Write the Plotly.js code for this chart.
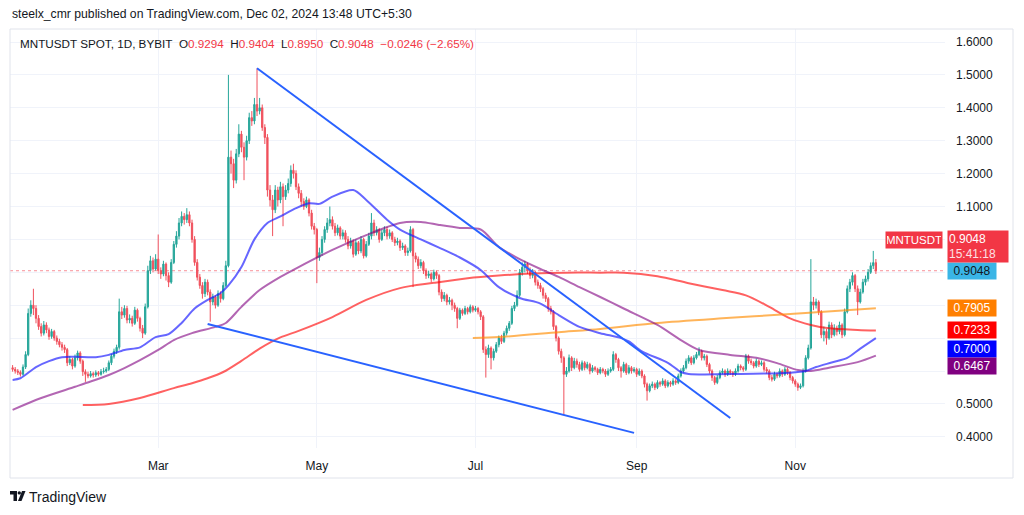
<!DOCTYPE html>
<html><head><meta charset="utf-8">
<script src="https://cdn.plot.ly/plotly-3.0.1.min.js"></script>
<style>html,body{margin:0;padding:0;background:#fff;}#chart{width:1024px;height:515px;}</style>
</head><body><div id="chart"></div>
<script>
// ---------- DATA ----------
const startDate = [2024, 0, 5];          // first daily candle: 2024-01-05
const firstOpen = 0.610;
const closes = [
.605,.600,.596,.590,.612,.650,.775,.800,.790,.760,
.735,.715,.740,.725,.705,.720,.700,.690,.680,.672,
.665,.625,.635,.615,.640,.655,.630,.598,.590,.585,
.592,.588,.595,.590,.598,.600,.605,.625,.645,.660,
.672,.780,.770,.790,.755,.760,.745,.785,.760,.730,
.715,.795,.905,.935,.910,.940,.905,.895,.925,.890,
.870,.930,.985,1.010,1.050,1.070,1.060,1.075,1.050,1.000,
.930,.885,.860,.835,.870,.840,.810,.825,.800,.835,
.820,.860,.920,1.250,1.230,1.180,1.260,1.320,1.280,1.250,
1.300,1.370,1.360,1.410,1.390,1.400,1.340,1.310,1.150,1.120,
1.090,1.150,1.120,1.160,1.130,1.150,1.170,1.210,1.200,1.160,
1.140,1.115,1.100,1.120,1.080,1.040,1.030,.945,.960,1.000,
1.030,1.050,1.060,1.040,1.020,1.035,1.010,1.020,1.000,.980,
.995,.955,.990,.965,1.000,.950,.985,1.010,1.050,1.020,
1.030,1.000,1.020,1.030,1.010,1.020,1.000,.990,.995,.975,
.980,.960,.965,1.030,.950,.940,.920,.930,.905,.890,
.895,.880,.900,.890,.840,.820,.830,.810,.815,.800,
.790,.760,.785,.775,.790,.780,.795,.785,.790,.780,
.765,.665,.650,.670,.640,.660,.680,.700,.690,.715,
.730,.745,.790,.800,.830,.900,.915,.925,.905,.890,
.900,.870,.860,.850,.830,.820,.790,.780,.735,.700,
.660,.640,.590,.600,.640,.610,.630,.620,.605,.625,
.610,.620,.600,.610,.605,.595,.605,.600,.590,.600,
.605,.650,.635,.610,.600,.620,.595,.610,.600,.605,
.590,.600,.585,.560,.540,.555,.560,.550,.565,.560,
.570,.555,.565,.560,.570,.565,.585,.600,.610,.630,
.640,.625,.640,.650,.660,.640,.645,.620,.600,.580,
.565,.580,.595,.600,.590,.600,.595,.590,.600,.615,
.610,.605,.645,.630,.625,.615,.630,.620,.625,.605,
.600,.580,.575,.590,.585,.600,.590,.605,.595,.580,
.570,.560,.550,.555,.600,.640,.670,.810,.800,.810,
.780,.710,.720,.700,.740,.710,.730,.720,.740,.710,
.780,.850,.870,.890,.850,.810,.840,.870,.880,.900,
.920,.9294,.9048];
const highs = [
.618,.612,.606,.602,.620,.660,.790,.815,.850,.800,
.770,.745,.752,.748,.732,.728,.725,.708,.698,.688,
.680,.670,.645,.640,.650,.662,.660,.635,.605,.598,
.600,.598,.602,.600,.606,.610,.612,.632,.652,.668,
.680,.820,.795,.800,.798,.772,.768,.795,.790,.765,
.740,.805,.920,.950,.945,.955,1.015,.915,.935,.930,
.900,.940,.995,1.025,1.065,1.085,1.080,1.095,1.085,1.060,
1.010,.940,.895,.870,.880,.878,.848,.835,.830,.845,
.842,.870,.935,1.500,1.270,1.245,1.275,1.350,1.330,1.295,
1.315,1.385,1.390,1.430,1.520,1.430,1.410,1.350,1.320,1.165,
1.135,1.165,1.160,1.175,1.170,1.165,1.185,1.225,1.230,1.210,
1.170,1.150,1.125,1.130,1.125,1.090,1.050,1.035,.975,1.010,
1.040,1.065,1.100,1.070,1.050,1.045,1.040,1.030,1.028,1.010,
1.005,1.000,1.000,.995,1.010,1.005,.995,1.020,1.080,1.060,
1.040,1.035,1.030,1.040,1.038,1.030,1.025,1.008,1.005,1.000,
.990,.985,.975,1.040,1.035,.960,.948,.940,.935,.912,
.905,.900,.908,.905,.895,.848,.840,.835,.825,.820,
.808,.795,.792,.790,.798,.795,.802,.800,.798,.795,
.785,.770,.675,.680,.675,.668,.688,.708,.710,.722,
.738,.752,.798,.810,.845,.910,.930,.935,.930,.915,
.910,.905,.878,.868,.855,.838,.825,.798,.785,.740,
.705,.668,.645,.612,.650,.645,.640,.638,.628,.632,
.630,.628,.625,.618,.615,.610,.612,.610,.606,.608,
.612,.660,.655,.640,.615,.628,.625,.618,.615,.612,
.610,.608,.605,.590,.565,.562,.568,.565,.572,.570,
.578,.575,.572,.570,.578,.575,.592,.608,.618,.638,
.648,.645,.648,.658,.672,.665,.652,.650,.625,.605,
.585,.588,.602,.608,.605,.608,.605,.600,.608,.622,
.620,.615,.652,.650,.638,.630,.638,.635,.632,.630,
.612,.605,.588,.598,.595,.608,.605,.612,.610,.600,
.585,.575,.565,.562,.608,.648,.680,.940,.825,.820,
.815,.785,.735,.728,.750,.748,.742,.738,.750,.745,
.790,.860,.880,.900,.895,.860,.850,.880,.890,.910,
.930,.965,.9404];
const lows = [
.598,.592,.588,.583,.586,.606,.645,.765,.770,.745,
.725,.705,.708,.715,.695,.698,.692,.680,.672,.662,
.655,.615,.618,.605,.610,.632,.622,.585,.567,.578,
.580,.580,.582,.584,.586,.592,.595,.600,.618,.638,
.652,.665,.758,.762,.745,.745,.735,.740,.750,.720,
.700,.710,.790,.895,.900,.905,.895,.880,.888,.875,
.855,.865,.925,.975,1.000,1.040,1.045,1.050,1.040,.990,
.920,.875,.850,.820,.825,.830,.750,.800,.790,.795,
.808,.815,.855,.915,1.200,1.156,1.170,1.250,1.265,1.180,
1.240,1.290,1.345,1.350,1.375,1.380,1.330,1.290,1.130,1.100,
1.010,1.080,1.100,1.110,1.040,1.120,1.140,1.160,1.185,1.150,
1.125,1.100,1.090,1.095,1.070,1.030,1.015,.867,.935,.950,
.990,1.020,1.040,1.030,1.010,1.012,1.000,1.000,.990,.970,
.972,.945,.950,.955,.958,.942,.945,.980,1.000,1.010,
1.012,.990,.995,1.010,1.000,1.002,.992,.980,.982,.965,
.968,.950,.950,.960,.855,.930,.910,.912,.895,.880,
.882,.870,.875,.880,.830,.810,.812,.800,.802,.785,
.780,.730,.755,.768,.770,.772,.775,.778,.780,.772,
.755,.655,.580,.640,.605,.632,.655,.672,.682,.685,
.708,.722,.740,.782,.795,.825,.890,.900,.895,.880,
.882,.860,.850,.840,.820,.810,.780,.772,.725,.690,
.650,.625,.467,.582,.595,.600,.605,.610,.598,.600,
.602,.605,.590,.595,.598,.588,.590,.593,.582,.585,
.595,.600,.625,.600,.580,.595,.588,.590,.592,.595,
.582,.585,.578,.550,.510,.535,.548,.542,.545,.552,
.555,.548,.550,.552,.555,.558,.560,.580,.595,.605,
.622,.618,.620,.635,.645,.632,.632,.612,.592,.570,
.558,.560,.575,.590,.582,.585,.588,.582,.585,.595,
.602,.598,.600,.622,.618,.608,.610,.612,.615,.598,
.592,.572,.568,.570,.578,.580,.582,.585,.588,.572,
.562,.552,.540,.545,.550,.595,.635,.665,.785,.790,
.770,.700,.690,.680,.695,.700,.705,.708,.712,.700,
.705,.775,.840,.860,.840,.770,.805,.835,.860,.872,
.895,.910,.895];

// moving averages (values at sample dates)
const blueMaDates = ['2024-01-05','2024-01-08','2024-01-14','2024-01-19','2024-01-24','2024-01-29','2024-02-06','2024-02-11','2024-02-17','2024-02-23','2024-02-29','2024-03-05','2024-03-10','2024-03-15','2024-03-20','2024-03-25','2024-03-28','2024-04-02','2024-04-07','2024-04-12','2024-04-17','2024-04-23','2024-04-28','2024-05-02','2024-05-07','2024-05-15','2024-05-20','2024-05-28','2024-06-02','2024-06-10','2024-06-17','2024-06-25','2024-07-03','2024-07-10','2024-07-18','2024-07-26','2024-08-02','2024-08-10','2024-08-18','2024-08-26','2024-08-29','2024-09-03','2024-09-13','2024-09-18','2024-09-21','2024-10-11','2024-10-30','2024-11-05','2024-11-09','2024-11-15','2024-11-21','2024-11-26','2024-12-02'];
const blueMaValues = [0.573,0.578,0.612,0.630,0.642,0.643,0.642,0.649,0.664,0.672,0.703,0.712,0.746,0.790,0.816,0.837,0.860,0.916,1.000,1.050,1.070,1.095,1.110,1.108,1.130,1.150,1.120,1.060,1.030,1.000,0.975,0.945,0.907,0.855,0.822,0.805,0.770,0.734,0.715,0.700,0.690,0.660,0.625,0.597,0.591,0.591,0.595,0.600,0.612,0.626,0.640,0.668,0.700];
const purpleMaDates = ['2024-01-05','2024-01-16','2024-01-29','2024-02-04','2024-02-11','2024-02-17','2024-02-23','2024-03-01','2024-03-07','2024-03-14','2024-03-23','2024-03-27','2024-04-02','2024-04-09','2024-04-17','2024-04-24','2024-05-07','2024-05-20','2024-06-02','2024-06-10','2024-06-17','2024-06-25','2024-07-03','2024-07-10','2024-07-18','2024-07-26','2024-08-02','2024-08-10','2024-08-18','2024-08-27','2024-09-09','2024-09-18','2024-09-25','2024-10-07','2024-10-17','2024-10-25','2024-11-02','2024-11-07','2024-11-14','2024-11-25','2024-12-02'];
const purpleMaValues = [0.482,0.518,0.552,0.568,0.588,0.609,0.633,0.664,0.694,0.715,0.734,0.746,0.795,0.846,0.886,0.916,0.968,1.013,1.050,1.053,1.044,1.035,1.030,0.977,0.940,0.910,0.886,0.855,0.825,0.790,0.740,0.694,0.664,0.649,0.640,0.624,0.603,0.600,0.610,0.627,0.6467];
const redMaDates = ['2024-02-01','2024-02-11','2024-02-23','2024-03-07','2024-03-14','2024-03-20','2024-03-26','2024-04-02','2024-04-09','2024-04-17','2024-04-24','2024-05-07','2024-05-20','2024-06-02','2024-06-15','2024-06-28','2024-07-10','2024-07-23','2024-08-05','2024-08-18','2024-08-27','2024-09-09','2024-09-21','2024-10-04','2024-10-13','2024-10-22','2024-10-30','2024-11-07','2024-11-14','2024-11-25','2024-12-02'];
const redMaValues = [0.497,0.500,0.518,0.548,0.563,0.578,0.597,0.631,0.668,0.702,0.722,0.764,0.816,0.852,0.868,0.882,0.890,0.896,0.899,0.899,0.899,0.888,0.867,0.846,0.830,0.795,0.760,0.740,0.730,0.725,0.7233];
const orangeMaDates = ['2024-06-30','2024-07-10','2024-08-02','2024-08-18','2024-09-09','2024-10-04','2024-10-30','2024-11-12','2024-12-02'];
const orangeMaValues = [0.700,0.703,0.718,0.728,0.746,0.760,0.773,0.780,0.7905];

// hand-drawn trend lines
const trendUpperDates = ['2024-04-08','2024-10-07'];
const trendUpperPrices = [1.52, 0.457];
const trendLowerDates = ['2024-03-20','2024-08-31'];
const trendLowerPrices = [0.743, 0.412];

// axes
const monthTickDates = ['2024-03-01','2024-05-01','2024-07-01','2024-09-01','2024-11-01'];
const monthTickLabels = ['Mar','May','Jul','Sep','Nov'];
const priceTicks = [0.4,0.5,0.6,0.7,0.8,0.9,1.0,1.1,1.2,1.3,1.4,1.5,1.6];
const hiddenTickLabels = [0.6,0.7,0.8,0.9,1.0];   // covered by the price-scale badges in the reference
const countdown = '15:41:18';

// ---------- BUILD ----------
const dates = closes.map((_, i) => new Date(Date.UTC(startDate[0], startDate[1], startDate[2] + i)).toISOString().slice(0, 10));
const opens = closes.map((c, i) => i === 0 ? firstOpen : closes[i - 1]);
const N = closes.length;
const lastO = opens[N-1], lastH = highs[N-1], lastL = lows[N-1], lastC = closes[N-1];
const chg = lastC - opens[N-1];
const chgPct = chg / opens[N-1] * 100;
const f4 = v => v.toFixed(4);
const neg = s => s.replace('-', '\u2212');

const RED = '#f23645';
const TXT = '#131722';
const FONT = 'Liberation Sans, Arial, sans-serif';

// plot area in pixels: x 10..945, y 29..448
const PX0 = 10, PX1 = 945, PY0 = 29, PY1 = 448;
const px = x => (x - PX0) / (PX1 - PX0);
const py = y => (PY1 - y) / (PY1 - PY0);

const traces = [
  {type:'candlestick', x:dates, open:opens, high:highs, low:lows, close:closes,
   increasing:{line:{color:'#26a69a', width:1}, fillcolor:'#26a69a'},
   decreasing:{line:{color:'#f0505c', width:1}, fillcolor:'#f0505c'},
   whiskerwidth:0, hoverinfo:'skip', showlegend:false},
  {type:'scatter', mode:'lines', x:redMaDates, y:redMaValues, line:{color:'rgba(255,0,0,0.62)', width:2, shape:'spline', smoothing:0.9}, hoverinfo:'skip', showlegend:false},
  {type:'scatter', mode:'lines', x:orangeMaDates, y:orangeMaValues, line:{color:'rgba(255,140,0,0.65)', width:2, shape:'spline', smoothing:0.8}, hoverinfo:'skip', showlegend:false},
  {type:'scatter', mode:'lines', x:purpleMaDates, y:purpleMaValues, line:{color:'rgba(128,0,128,0.6)', width:2, shape:'spline', smoothing:0.8}, hoverinfo:'skip', showlegend:false},
  {type:'scatter', mode:'lines', x:blueMaDates, y:blueMaValues, line:{color:'rgba(30,30,255,0.68)', width:2, shape:'spline', smoothing:0.8}, hoverinfo:'skip', showlegend:false},
  {type:'scatter', mode:'lines', x:trendUpperDates, y:trendUpperPrices, line:{color:'#2962ff', width:2}, hoverinfo:'skip', showlegend:false},
  {type:'scatter', mode:'lines', x:trendLowerDates, y:trendLowerPrices, line:{color:'#2962ff', width:2}, hoverinfo:'skip', showlegend:false}
];

const lastBlue = blueMaValues[blueMaValues.length-1];
const lastPurple = purpleMaValues[purpleMaValues.length-1];
const lastRed = redMaValues[redMaValues.length-1];
const lastOrange = orangeMaValues[orangeMaValues.length-1];

function priceLabel(val, bg, fg, shift, w) {
  return {xref:'paper', yref:'y', x:px(947), y:val, xanchor:'left', yanchor:'middle',
    text:f4(val), showarrow:false, bgcolor:bg, font:{family:FONT, size:12, color:fg},
    width:w || 46, height:14, borderpad:1, yshift:shift || 0, align:'center'};
}

const redSpan = t => '<span style="color:' + RED + '">' + t + '</span>';
const legendText = 'MNTUSDT SPOT, 1D, BYBIT\u00a0\u00a0O' + redSpan(f4(lastO)) + '\u00a0\u00a0H' + redSpan(f4(lastH)) +
  '\u00a0\u00a0L' + redSpan(f4(lastL)) + '\u00a0\u00a0C' + redSpan(f4(lastC)) + '\u00a0\u00a0' +
  redSpan(neg(chg.toFixed(4)) + ' (' + neg(chgPct.toFixed(2)) + '%)');

const annotations = [
  {xref:'paper', yref:'paper', x:px(10), y:py(14), xanchor:'left', yanchor:'middle', showarrow:false,
   text:'steelx_cmr published on TradingView.com, Dec 02, 2024 13:48 UTC+5:30', font:{family:FONT, size:12.2, color:TXT}},
  {xref:'paper', yref:'paper', x:px(18), y:py(43), xanchor:'left', yanchor:'middle', showarrow:false,
   text:legendText, font:{family:FONT, size:11.7, color:TXT}},
  {xref:'paper', yref:'paper', x:px(27), y:py(497), xanchor:'left', yanchor:'middle', showarrow:false,
   text:'TradingView', font:{family:FONT, size:14, color:TXT}},
  // price scale labels
  priceLabel(lastC, '#3ab5e6', TXT, 0, 46),
  {xref:'paper', yref:'y', x:px(947), y:lastC, xanchor:'left', yanchor:'middle', showarrow:false,
   text:f4(lastC) + '<br><span style="color:#fde0e3">' + countdown + '</span>', bgcolor:RED,
   font:{family:FONT, size:12, color:'#ffffff'}, width:58, height:29, borderpad:1, yshift:24, align:'left'},
  {xref:'paper', yref:'y', x:px(943), y:lastC, xanchor:'right', yanchor:'middle', showarrow:false,
   text:'MNTUSDT', bgcolor:RED, font:{family:FONT, size:11.5, color:'#ffffff'}, width:54, height:14, borderpad:1, yshift:31},
  priceLabel(lastOrange, '#ff7f00', '#ffffff', 0),
  priceLabel(lastRed, '#ff0000', '#ffffff', 0),
  priceLabel(lastBlue, '#0000ff', '#ffffff', -11),
  priceLabel(lastPurple, '#800080', '#ffffff', -10)
];

const pp = (pts) => 'M' + pts.map(p => px(p[0]) + ',' + py(p[1])).join(' L') + ' Z';
const shapes = [
  {type:'line', xref:'paper', yref:'y', x0:0, x1:1, y0:lastC, y1:lastC, line:{color:'rgba(242,54,69,0.55)', width:1, dash:'dot'}, layer:'below'},
  {type:'rect', xref:'paper', yref:'paper', x0:px(10), x1:px(1013), y0:py(478), y1:py(29), line:{color:'#e0e3eb', width:1}, fillcolor:'rgba(0,0,0,0)'},
  // TradingView logo mark
  {type:'path', xref:'paper', yref:'paper', path:pp([[10,491],[17,491],[17,501],[13.5,501],[13.5,494.5],[10,494.5]]), fillcolor:TXT, line:{width:0}},
  {type:'circle', xref:'paper', yref:'paper', x0:px(17.6), x1:px(21), y0:py(494.6), y1:py(491.2), fillcolor:TXT, line:{width:0}},
  {type:'path', xref:'paper', yref:'paper', path:pp([[22,491],[25.5,491],[21.5,501],[18,501]]), fillcolor:TXT, line:{width:0}}
];

const layout = {
  width:1024, height:515,
  margin:{l:PX0, r:1024-PX1, t:PY0, b:515-PY1, pad:0},
  paper_bgcolor:'#ffffff', plot_bgcolor:'#ffffff',
  font:{family:FONT, size:12, color:TXT},
  showlegend:false,
  xaxis:{type:'date', range:['2024-01-04','2024-12-28 14:00'], tickmode:'array', tickvals:monthTickDates, ticktext:monthTickLabels,
    showgrid:true, gridcolor:'#f0f3fa', gridwidth:1, zeroline:false, showline:false, ticks:'',
    tickfont:{family:FONT, size:12, color:TXT}, ticklabelstandoff:9, rangeslider:{visible:false}, fixedrange:true},
  yaxis:{side:'right', range:[0.366, 1.6395], tickmode:'array', tickvals:priceTicks,
    ticktext:priceTicks.map(v => hiddenTickLabels.some(h => Math.abs(h - v) < 1e-9) ? '' : f4(v)),
    showgrid:true, gridcolor:'#f0f3fa', gridwidth:1, zeroline:false, showline:false, ticks:'',
    tickfont:{family:FONT, size:12, color:TXT}, ticklabelstandoff:10, fixedrange:true},
  annotations:annotations, shapes:shapes
};

Plotly.newPlot('chart', traces, layout, {staticPlot:true, displayModeBar:false});
</script></body></html>
